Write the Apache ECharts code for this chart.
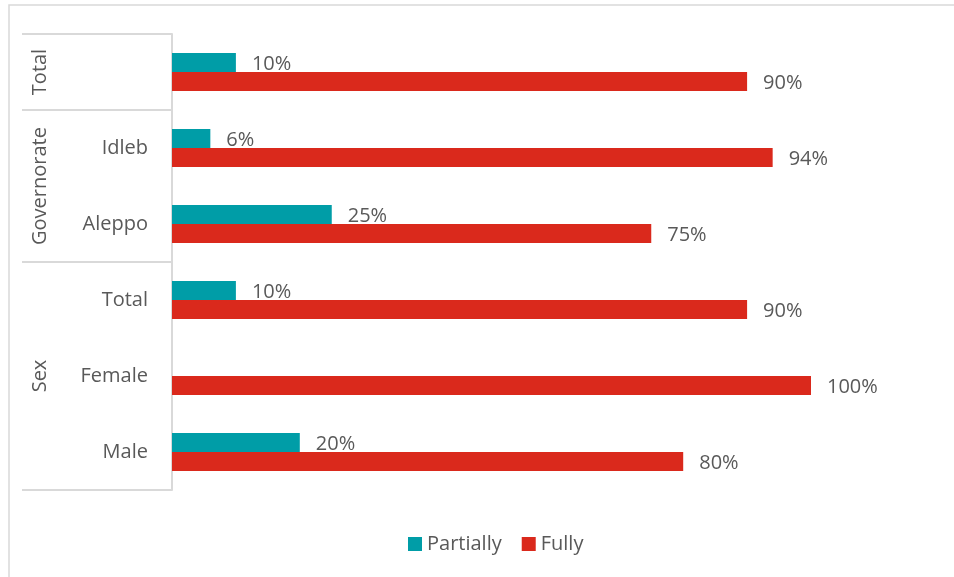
<!DOCTYPE html>
<html><head><meta charset="utf-8">
<script src="https://cdn.jsdelivr.net/npm/echarts@6/dist/echarts.min.js"></script>
<style>html,body{margin:0;padding:0;background:#fff}#c{width:954px;height:577px}</style>
</head><body><div id="c"></div>
<script>
const categories = ['', 'Idleb', 'Aleppo', 'Total', 'Female', 'Male'];
const partially = [10, 6, 25, 10, 0, 20];
const fully = [90, 94, 75, 90, 100, 80];
const groups = [['Total', 0, 0], ['Governorate', 1, 2], ['Sex', 3, 5]];
const seriesNames = ['Partially', 'Fully'];

const FONT = '"Open Sans", "Noto Sans", sans-serif';
const FS = 20;
const TXT = '#595959';
const LINE = '#d9d9d9';
const chart = echarts.init(document.getElementById('c'));

const labelOpt = {
  show: true, position: 'right', distance: 16, offset: [0, 2], color: TXT, fontSize: FS, fontFamily: FONT,
  formatter: p => (p.value ? p.value + '%' : '')
};

chart.setOption({
  animation: false,
  textStyle: { fontFamily: FONT },
  graphic: [{ type: 'rect', shape: { x: 9, y: 5, width: 1000, height: 700 }, style: { fill: 'none', stroke: LINE, lineWidth: 1.5 }, silent: true }],
  legend: {
    data: seriesNames, bottom: 18, left: 403, icon: 'rect', itemWidth: 14, itemHeight: 14, itemGap: 20,
    textStyle: { color: TXT, fontSize: FS, fontFamily: FONT }
  },
  grid: { left: 172, right: 143, top: 34, bottom: 87, containLabel: false },
  xAxis: { type: 'value', min: 0, max: 100, show: false },
  yAxis: {
    type: 'category', data: categories, inverse: true,
    axisLine: { show: true, lineStyle: { color: LINE, width: 2 } },
    axisTick: { show: false },
    axisLabel: { color: TXT, fontSize: FS, fontFamily: FONT, margin: 24 }
  },
  series: [
    { name: seriesNames[0], type: 'bar', data: partially, barWidth: 19, barGap: '0%', itemStyle: { color: '#009DA7' }, label: labelOpt },
    { name: seriesNames[1], type: 'bar', data: fully, barWidth: 19, barGap: '0%', itemStyle: { color: '#DA291C' }, label: labelOpt },
    {
      type: 'custom', clip: false, silent: true, data: groups.map(g => [0, g[1], g[2], g[0]]),
      encode: { x: 0, y: 1 },
      renderItem: (params, api) => {
        const band = api.size([0, 1])[1];
        const y0 = api.coord([0, api.value(1)])[1] - band / 2;
        const y1 = api.coord([0, api.value(2)])[1] + band / 2;
        const gx = params.coordSys.x;
        const children = [
          { type: 'line', shape: { x1: 22, y1: y1, x2: gx, y2: y1 }, style: { stroke: LINE, lineWidth: 2 } },
          { type: 'text', x: 40, y: (y0 + y1) / 2, rotation: Math.PI / 2,
            style: { text: api.value(3), fill: TXT, fontSize: FS, fontFamily: FONT, align: 'center', verticalAlign: 'middle' } }
        ];
        if (params.dataIndex === 0) children.push({ type: 'line', shape: { x1: 22, y1: y0, x2: gx, y2: y0 }, style: { stroke: LINE, lineWidth: 2 } });
        return { type: 'group', children };
      }
    }
  ]
});
</script></body></html>
